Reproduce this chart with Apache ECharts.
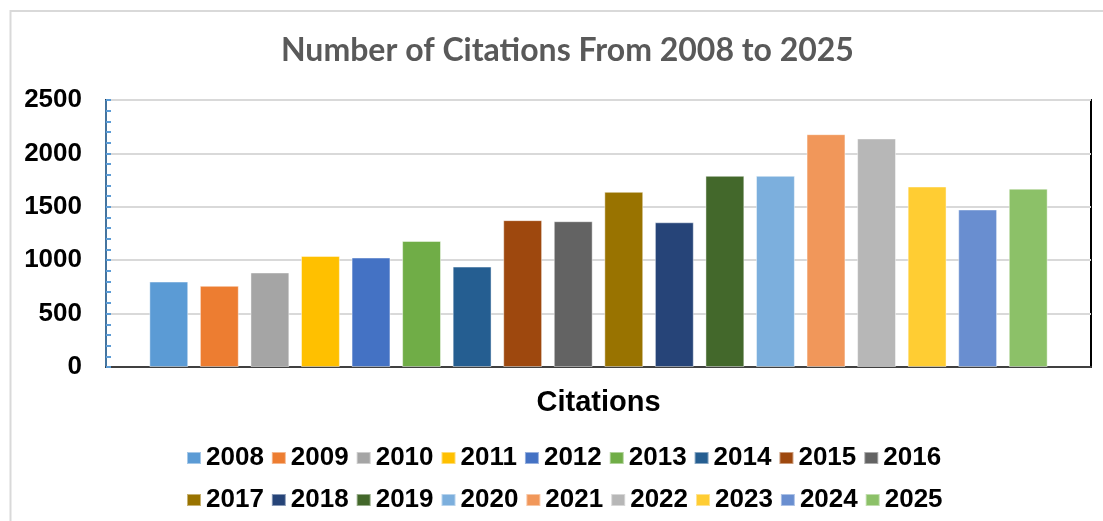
<!DOCTYPE html>
<html>
<head>
<meta charset="utf-8">
<script src="https://cdn.jsdelivr.net/npm/echarts@6/dist/echarts.min.js"></script>
<style>
html,body{margin:0;padding:0;background:#fff;}
#chart{width:1103px;height:521px;}
</style>
</head>
<body>
<div id="chart"></div>
<script>
const years = ['2008','2009','2010','2011','2012','2013','2014','2015','2016','2017','2018','2019','2020','2021','2022','2023','2024','2025'];
const citations = [800, 760, 885, 1040, 1025, 1180, 940, 1375, 1365, 1640, 1355, 1790, 1790, 2180, 2140, 1690, 1475, 1670];
const colors = ['#5B9BD5','#ED7D31','#A5A5A5','#FFC000','#4472C4','#70AD47','#255E91','#9E480E','#636363','#997300','#264478','#43682B','#7CAFDD','#F1975A','#B7B7B7','#FFCD33','#698ED0','#8CC168'];
const category = ['Citations'];
const yTicks = [0, 500, 1000, 1500, 2000, 2500];

const chart = echarts.init(document.getElementById('chart'));
const legendText = {fontFamily:'"Liberation Sans", Arial, sans-serif', fontWeight:'bold', fontSize:26, color:'#000'};
const option = {
  animation:false,
  color: colors,
  title:{
    text:'Number of Citations From 2008 to 2025',
    left:276, top:30,
    textStyle:{fontFamily:'Lato, "Open Sans", sans-serif', fontWeight:'bold', fontSize:32, color:'#595959'}
  },
  graphic:[{type:'rect', shape:{x:10.5, y:11, width:1100, height:520}, style:{fill:'none', stroke:'#d9d9d9', lineWidth:2}, silent:true}],
  legend:[
    {data: years.slice(0,9), left:186, top:445, itemWidth:14, itemHeight:12, itemGap:7, icon:'rect', textStyle:legendText, padding:0},
    {data: years.slice(9), left:186, top:487, itemWidth:14, itemHeight:12, itemGap:7, icon:'rect', textStyle:legendText, padding:0}
  ],
  grid:{left:106, right:12, top:100, bottom:154, show:true, borderColor:'#000', borderWidth:2, backgroundColor:'#fff'},
  xAxis:{
    type:'category', data:category,
    axisLabel:{show:false}, axisTick:{show:false},
    axisLine:{lineStyle:{color:'#404040', width:2}},
    name:'Citations', nameLocation:'middle', nameGap:21,
    nameTextStyle:{fontFamily:'"Liberation Sans", Arial, sans-serif', fontWeight:'bold', fontSize:29, color:'#000'}
  },
  yAxis:{
    type:'value', min:yTicks[0], max:yTicks[yTicks.length-1], interval:500,
    axisLine:{show:true, lineStyle:{color:'#5B9BD5', width:1.5}},
    axisTick:{show:true, inside:true, length:5, lineStyle:{color:'#5B9BD5', width:2}},
    minorTick:{show:true, splitNumber:5, length:5, lineStyle:{color:'#5B9BD5', width:2}},
    splitLine:{lineStyle:{color:'#d9d9d9', width:2}},
    axisLabel:{margin:24, formatter:(v)=>String(v), fontFamily:'"Liberation Sans", Arial, sans-serif', fontWeight:'bold', fontSize:26, color:'#000'}
  },
  series: years.map((y,i)=>({
    name:y, type:'bar', data:[citations[i]],
    barGap:'30%', barCategoryGap:'8.8%',
    itemStyle:{color:colors[i], borderColor:'rgba(255,255,255,0.45)', borderWidth:1}
  }))
};
chart.setOption(option);
</script>
</body>
</html>
